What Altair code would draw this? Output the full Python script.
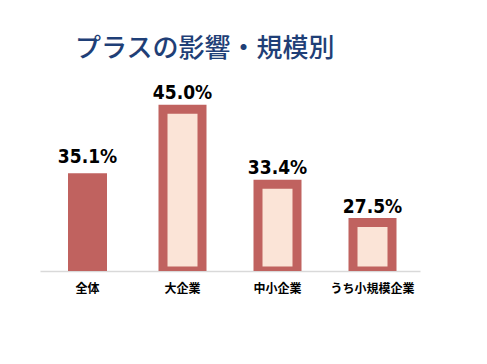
import altair as alt
import pandas as pd

categories = ["全体", "大企業", "中小企業", "うち小規模企業"]
values = [35.1, 45.0, 33.4, 27.5]
labels = ["35.1%", "45.0%", "33.4%", "27.5%"]
outlined = [False, True, True, True]

df = pd.DataFrame({"cat": categories, "val": values, "label": labels, "outlined": outlined})

RED = "#C0625F"
LIGHT = "#FBE4D7"
YMIN = 20

x = alt.X("cat:N", sort=categories, title=None,
          scale=alt.Scale(paddingInner=0, paddingOuter=0),
          axis=alt.Axis(labelAngle=0, ticks=False, domainColor="#D9D9D9", domainWidth=1.5,
                        labelFont="Noto Sans CJK JP", labelFontWeight="bold", labelFontSize=12,
                        labelColor="#000000", labelPadding=12))
y = alt.Y("val:Q", title=None, scale=alt.Scale(domain=[YMIN, 50], zero=False, nice=False), axis=None)

base = alt.Chart(df).encode(x=x, y=y, y2=alt.datum(YMIN))

solid = base.transform_filter("!datum.outlined").mark_bar(size=39, color=RED)
outl = base.transform_filter("datum.outlined").mark_bar(size=39, fill=LIGHT, stroke=RED,
                                                        strokeWidth=9, clip=True)
text = alt.Chart(df).mark_text(font="DejaVu Sans Condensed, Roboto", fontWeight="bold", fontSize=19,
                               baseline="alphabetic", dy=-10, color="#000000").encode(
    x=alt.X("cat:N", sort=categories), y=alt.Y("val:Q"), text="label:N")

chart = alt.layer(solid, outl, text).properties(
    width=380, height=194,
    title=alt.TitleParams("プラスの影響・規模別", anchor="start", font="Noto Sans CJK JP",
                          fontSize=26, fontWeight=500, color="#1F3F77", dx=35, offset=15),
    padding={"left": 32, "top": 28, "right": 10, "bottom": 10},
).configure_view(stroke=None)

chart.save("out.html", embed_options={"renderer": "svg", "actions": False})
